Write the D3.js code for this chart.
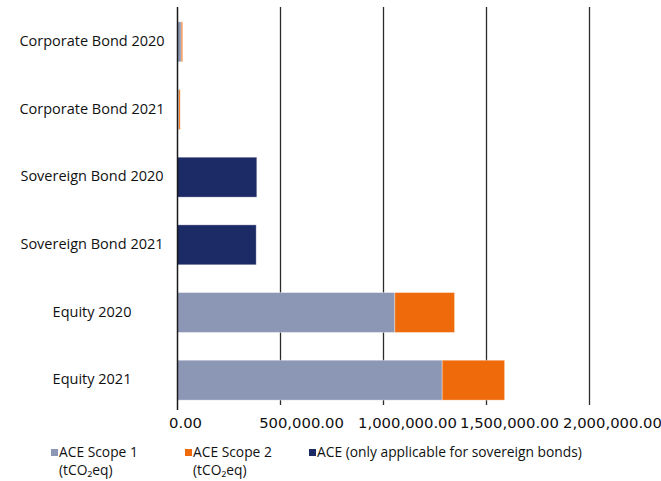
<!DOCTYPE html>
<html>
<head>
<meta charset="utf-8">
<script src="https://cdn.jsdelivr.net/npm/d3@7"></script>
<style>
  html, body { margin: 0; padding: 0; background: #fff; }
  svg { display: block; }
</style>
</head>
<body>
<svg id="chart" width="661" height="481"></svg>
<script>
// Absolute carbon emissions by asset class and year (tCO2eq)
const categories = [
  "Corporate Bond 2020",
  "Corporate Bond 2021",
  "Sovereign Bond 2020",
  "Sovereign Bond 2021",
  "Equity 2020",
  "Equity 2021"
];
const scope1 = [18000, 6000, 0, 0, 1055000, 1285000];
const scope2 = [7000, 7000, 0, 0, 290000, 303000];
const aceSovereign = [0, 0, 385000, 382000, 0, 0];
const tickValues = [0, 500000, 1000000, 1500000, 2000000];
const seriesNames = ["ACE Scope 1", "ACE Scope 2", "ACE (only applicable for sovereign bonds)"];
const seriesUnits = ["(tCO₂eq)", "(tCO₂eq)", ""];
const colors = ["#8C96B5", "#EE6A0A", "#1C2A66"];

const svg = d3.select("#chart");
const plotLeft = 177.5, plotRight = 589.5;
const plotTop = 8, plotBottom = 414;

const x = d3.scaleLinear().domain([0, 2000000]).range([plotLeft, plotRight]);
const y = d3.scaleBand().domain(categories).range([plotTop, plotBottom]).paddingInner(0.41).paddingOuter(0.205);

// stacked rows
const rows = categories.map((c, i) => ({ cat: c, vals: [scope1[i], scope2[i], aceSovereign[i]] }));
const stack = d3.stack().keys([0, 1, 2]).value((d, k) => d.vals[k]);
const layers = stack(rows);

// vertical gridlines
svg.append("g").selectAll("line")
  .data(tickValues.slice(1))
  .join("line")
  .attr("x1", d => x(d)).attr("x2", d => x(d))
  .attr("y1", 7).attr("y2", 405)
  .attr("stroke", "#2b2b2b").attr("stroke-width", 1.3);

// bars
svg.append("g").selectAll("g")
  .data(layers)
  .join("g")
  .attr("fill", (d, i) => colors[i])
  .selectAll("rect")
  .data(d => d.filter(s => s[1] - s[0] > 0))
  .join("rect")
  .attr("x", d => x(d[0]))
  .attr("width", d => x(d[1]) - x(d[0]))
  .attr("y", d => y(d.data.cat))
  .attr("height", y.bandwidth())
  .attr("stroke", "rgba(255,255,255,0.45)")
  .attr("stroke-width", 0.8);

// zero axis line
svg.append("line")
  .attr("x1", x(0)).attr("x2", x(0))
  .attr("y1", 7).attr("y2", 410)
  .attr("stroke", "#1a1a1a").attr("stroke-width", 1.5);

// x tick labels (set slightly right of their ticks)
const tickLabelShift = [8, 21, 24, 23, 23];
svg.append("g").selectAll("text")
  .data(tickValues)
  .join("text")
  .attr("x", (d, i) => x(d) + tickLabelShift[i])
  .attr("y", 428)
  .attr("text-anchor", "middle")
  .attr("font-family", "DejaVu Sans")
  .attr("font-size", 14.8)
  .attr("fill", "#111")
  .text(d => d3.format(",.2f")(d));

// category labels
svg.append("g").selectAll("text")
  .data(categories)
  .join("text")
  .attr("x", 92)
  .attr("y", d => y(d) + y.bandwidth() / 2 + 4)
  .attr("text-anchor", "middle")
  .attr("font-family", "Open Sans")
  .attr("font-size", 14.5)
  .attr("fill", "#111")
  .text(d => d);

// legend: each entry is one text element with a wrapped unit line
const legendX = [51, 185, 309];
const lg = svg.append("g").selectAll("g")
  .data(seriesNames)
  .join("g")
  .attr("transform", (d, i) => `translate(${legendX[i]},0)`);
lg.append("rect")
  .attr("x", 0).attr("y", 449).attr("width", 7).attr("height", 7)
  .attr("fill", (d, i) => colors[i]);
const lt = lg.append("text")
  .attr("y", 457)
  .attr("font-family", "Open Sans")
  .attr("font-size", 13.8)
  .attr("fill", "#111");
lt.append("tspan")
  .attr("x", 8)
  .text(d => d);
lt.filter((d, i) => seriesUnits[i] !== "")
  .append("tspan")
  .attr("x", 8)
  .attr("dy", 18)
  .text((d, i) => seriesUnits[i]);
</script>
</body>
</html>
